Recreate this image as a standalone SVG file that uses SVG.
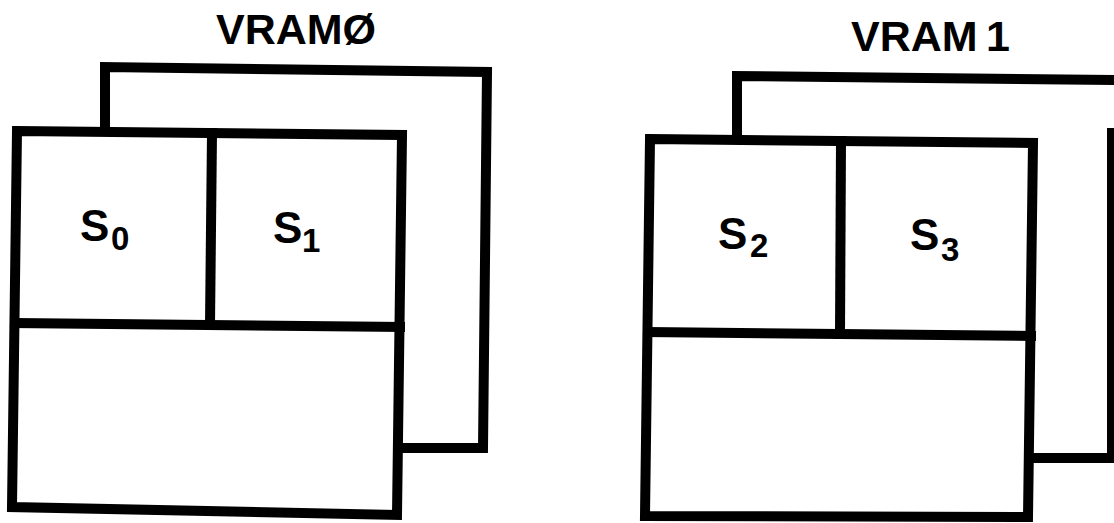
<svg xmlns="http://www.w3.org/2000/svg" width="1114" height="523" viewBox="0 0 1114 523">
  <style>
    .frame { fill: none; stroke: #000; stroke-width: 10; stroke-linejoin: miter; stroke-linecap: square; }
    .title { font-family: "Liberation Sans", Arial, sans-serif; font-weight: bold; font-size: 43px; fill: #000; }
    .seg { font-family: "Liberation Sans", Arial, sans-serif; font-weight: bold; font-size: 44px; fill: #000; }
    .sub { font-size: 33px; }
  </style>
  <rect width="1114" height="523" fill="#fff"/>

  <!-- VRAM 0: back page and front page split into S0, S1 and a lower area -->
  <g id="vram0">
    <text class="title" x="216" y="44">VRAMØ</text>
    <path class="frame" d="M105,131 V67 L487,72 L483,448 H402"/>
    <path class="frame" d="M17,131 L402,135 L397,515 L12,507 Z"/>
    <path class="frame" d="M212,133 L210,325"/>
    <path class="frame" d="M15,323 L400,327"/>
    <g id="s0">
      <text class="seg" x="80" y="241">S<tspan class="sub" x="111" y="250">0</tspan></text>
    </g>
    <g id="s1">
      <text class="seg" x="273" y="243">S<tspan class="sub" x="302" y="252">1</tspan></text>
    </g>
  </g>

  <!-- VRAM 1: back page runs past the right edge -->
  <g id="vram1">
    <text class="title" x="851" y="51">VRAM<tspan x="986">1</tspan></text>
    <path class="frame" d="M737,139 V76 L1125,80"/>
    <path class="frame" d="M1112,133 V458 H1033"/>
    <path class="frame" d="M650,139 L1033,143 L1028,517 L645,516 Z"/>
    <path class="frame" d="M841,141 L840,334"/>
    <path class="frame" d="M648,332 L1031,336"/>
    <g id="s2">
      <text class="seg" x="718" y="249">S<tspan class="sub" x="750" y="257">2</tspan></text>
    </g>
    <g id="s3">
      <text class="seg" x="910" y="250">S<tspan class="sub" x="941" y="261">3</tspan></text>
    </g>
  </g>
</svg>
